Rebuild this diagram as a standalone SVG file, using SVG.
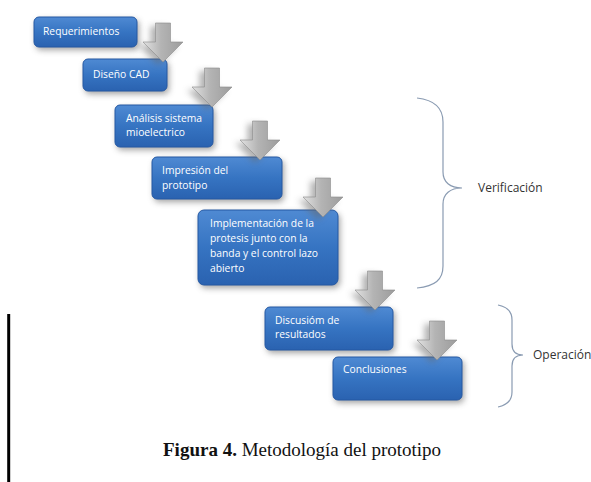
<svg xmlns="http://www.w3.org/2000/svg" width="591" height="482" viewBox="0 0 591 482">
<defs>
<linearGradient id="gBox" x1="0" y1="0" x2="0" y2="1">
<stop offset="0" stop-color="#4f8ad3"/>
<stop offset="0.5" stop-color="#3674c2"/>
<stop offset="1" stop-color="#2a62b0"/>
</linearGradient>
<linearGradient id="gArrow" x1="0" y1="0" x2="1" y2="0">
<stop offset="0" stop-color="#e2e2e2"/>
<stop offset="0.45" stop-color="#b4b4b4"/>
<stop offset="1" stop-color="#9c9c9c"/>
</linearGradient>
<filter id="blur" x="-30%" y="-30%" width="160%" height="160%">
<feGaussianBlur stdDeviation="3"/>
</filter>
<path id="arrow" d="M-7.5,-39 H7.5 V-20 H20 L0,0 L-20,-20 H-7.5 Z"/>
</defs>
<style>
.box{fill:url(#gBox);stroke:#2458a3;stroke-width:1}
.shadow{fill:#555;opacity:0.55;filter:url(#blur)}
.lbl{font-family:"Open Sans","Noto Sans",sans-serif;font-size:10.3px;fill:#ffffff}
.arr{fill:url(#gArrow);stroke:#8c8c8c;stroke-width:0.6}
.ashadow{fill:#666;opacity:0.5;filter:url(#blur)}
.brace{fill:none;stroke:#8a9bb2;stroke-width:1.2}
.side{font-family:"Open Sans","Noto Sans",sans-serif;font-size:12px;fill:#333333}
.cap{font-family:"Liberation Serif","Times New Roman",serif;font-size:19px;fill:#111111}
</style>
<rect width="591" height="482" fill="#ffffff"/>

<g id="node-requerimientos">
<rect class="shadow" x="36" y="20" width="103" height="30" rx="5"/>
<rect class="box" x="34" y="17" width="103" height="30" rx="5"/>
<text class="lbl" x="43" y="35">Requerimientos</text>
</g>
<g id="node-diseno">
<rect class="shadow" x="85" y="62" width="84" height="32" rx="5"/>
<rect class="box" x="83" y="59" width="84" height="32" rx="5"/>
<text class="lbl" x="93" y="78">Diseño CAD</text>
</g>
<g id="node-analisis">
<rect class="shadow" x="117" y="108" width="98" height="42" rx="5"/>
<rect class="box" x="115" y="105" width="98" height="42" rx="5"/>
<text class="lbl" x="126" y="122">Análisis sistema</text>
<text class="lbl" x="126" y="136">mioelectrico</text>
</g>
<g id="node-impresion">
<rect class="shadow" x="154" y="160" width="130" height="42" rx="5"/>
<rect class="box" x="152" y="157" width="130" height="42" rx="5"/>
<text class="lbl" x="162" y="174">Impresión del</text>
<text class="lbl" x="162" y="189">prototipo</text>
</g>
<g id="node-implementacion">
<rect class="shadow" x="200" y="213" width="140" height="75" rx="6"/>
<rect class="box" x="198" y="210" width="140" height="75" rx="6"/>
<text class="lbl" x="210" y="227">Implementación de la</text>
<text class="lbl" x="210" y="242">protesis junto con la</text>
<text class="lbl" x="210" y="257">banda y el control lazo</text>
<text class="lbl" x="210" y="272">abierto</text>
</g>
<g id="node-discusion">
<rect class="shadow" x="267" y="310" width="128" height="43" rx="5"/>
<rect class="box" x="265" y="307" width="128" height="43" rx="5"/>
<text class="lbl" x="275" y="324">Discusióm de</text>
<text class="lbl" x="275" y="338">resultados</text>
</g>
<g id="node-conclusiones">
<rect class="shadow" x="335" y="360" width="129" height="43" rx="5"/>
<rect class="box" x="333" y="357" width="129" height="43" rx="5"/>
<text class="lbl" x="343" y="373">Conclusiones</text>
</g>

<g id="connectors">
<g transform="translate(163,62)"><use href="#arrow" class="ashadow" x="-5" y="3"/><use href="#arrow" class="arr"/></g>
<g transform="translate(212,107)"><use href="#arrow" class="ashadow" x="-5" y="3"/><use href="#arrow" class="arr"/></g>
<g transform="translate(260,160)"><use href="#arrow" class="ashadow" x="-5" y="3"/><use href="#arrow" class="arr"/></g>
<g transform="translate(323,217)"><use href="#arrow" class="ashadow" x="-5" y="3"/><use href="#arrow" class="arr"/></g>
<g transform="translate(375,310)"><use href="#arrow" class="ashadow" x="-5" y="3"/><use href="#arrow" class="arr"/></g>
<g transform="translate(437,360)"><use href="#arrow" class="ashadow" x="-5" y="3"/><use href="#arrow" class="arr"/></g>
</g>

<g id="brace-verificacion">
<path class="brace" d="M417,98 C435,100 443,108 443,122 V172 C443,182 450,188 462,188 C450,188 443,194 443,204 V266 C443,280 435,286 417,288"/>
<text class="side" x="478" y="192">Verificación</text>
</g>
<g id="brace-operacion">
<path class="brace" d="M498,305 C508,307 512,312 512,320 V344 C512,351 516,355 523,355 C516,355 512,359 512,366 V392 C512,400 508,405 498,407"/>
<text class="side" x="533" y="359">Operación</text>
</g>

<line x1="8.7" y1="314" x2="8.7" y2="482" stroke="#000000" stroke-width="3"/>
<text class="cap" x="163" y="456"><tspan font-weight="bold">Figura 4.</tspan> Metodología del prototipo</text>
</svg>
